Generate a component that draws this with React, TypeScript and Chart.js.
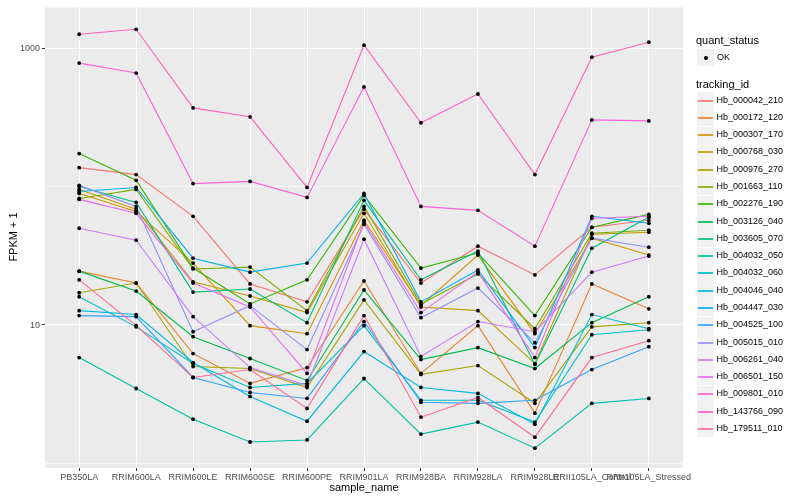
import React, { useEffect, useRef } from "react";
import { Chart, registerables } from "chart.js";

Chart.register(...registerables);

const sampleNames = [
  "PB350LA",
  "RRIM600LA",
  "RRIM600LE",
  "RRIM600SE",
  "RRIM600PE",
  "RRIM901LA",
  "RRIM928BA",
  "RRIM928LA",
  "RRIM928LE",
  "RRII105LA_Control",
  "RRII105LA_Stressed",
];

const trackingIds = [
  "Hb_000042_210",
  "Hb_000172_120",
  "Hb_000307_170",
  "Hb_000768_030",
  "Hb_000976_270",
  "Hb_001663_110",
  "Hb_002276_190",
  "Hb_003126_040",
  "Hb_003605_070",
  "Hb_004032_050",
  "Hb_004032_060",
  "Hb_004046_040",
  "Hb_004447_030",
  "Hb_004525_100",
  "Hb_005015_010",
  "Hb_006261_040",
  "Hb_006501_150",
  "Hb_009801_010",
  "Hb_143766_090",
  "Hb_179511_010",
];

// FPKM + 1 per sample, one array per tracking_id
const hb000042_210 = [137, 122, 61, 19.8, 14.7, 68.5, 20.1, 37.1, 23.0, 50.8, 57.1];
const hb000172_120 = [24.5, 20.1, 6.22, 3.79, 4.93, 20.8, 4.47, 9.9, 2.31, 19.8, 13.1];
const hb000307_170 = [89.2, 66.2, 28.0, 9.9, 8.66, 57.1, 13.8, 32.0, 8.66, 42.4, 32.0];
const hb000768_030 = [95.3, 68.5, 20.5, 16.2, 12.3, 64.1, 13.5, 12.7, 5.27, 45.3, 46.8];
const hb000976_270 = [17.1, 20.1, 5.02, 4.85, 3.54, 15.2, 4.4, 5.1, 2.72, 9.7, 10.4];
const hb001663_110 = [82.1, 95.3, 25.4, 26.2, 12.7, 71.9, 14.2, 23.4, 9.4, 46.0, 48.4];
const hb002276_190 = [173, 111, 25.8, 14.2, 21.2, 86.3, 25.8, 33.1, 11.7, 50.8, 63.0];
const hb003126_040 = [24.5, 17.6, 8.24, 5.73, 3.98, 17.9, 5.63, 6.87, 4.85, 10.4, 16.0];
const hb003605_070 = [100, 76.9, 17.3, 18.2, 10.4, 79.5, 21.2, 34.2, 5.19, 35.9, 60.0];
const hb004032_050 = [5.82, 3.48, 2.09, 1.43, 1.48, 4.11, 1.63, 1.99, 1.29, 2.72, 2.95];
const hb004032_060 = [16.0, 9.7, 5.27, 3.54, 3.79, 9.9, 2.86, 2.86, 1.99, 8.52, 9.25];
const hb004046_040 = [12.7, 11.9, 5.36, 3.05, 2.02, 6.43, 3.54, 3.21, 1.92, 11.9, 9.4];
const hb004447_030 = [92.2, 98.5, 30.4, 24.1, 28.0, 89.2, 14.7, 25.0, 6.87, 61.0, 54.3];
const hb004525_100 = [11.7, 11.5, 4.18, 3.26, 2.95, 10.6, 2.77, 2.72, 2.86, 4.77, 6.98];
const hb005015_010 = [102, 71.9, 8.95, 13.8, 6.65, 53.4, 11.3, 18.5, 7.46, 42.4, 36.5];
const hb006261_040 = [50.0, 41.0, 11.5, 4.93, 3.66, 41.7, 5.92, 10.6, 8.95, 24.1, 31.5];
const hb006501_150 = [80.8, 64.1, 20.1, 13.5, 4.47, 55.2, 12.3, 24.1, 5.82, 59.0, 61.0];
const hb009801_010 = [779, 660, 105, 109, 83.5, 524, 71.9, 67.3, 37.1, 303, 298];
const hb143766_090 = [1259, 1367, 370, 319, 98.5, 1049, 289, 466, 122, 860, 1103];
const hb179511_010 = [21.2, 9.9, 4.18, 4.77, 2.5, 11.7, 2.16, 3.0, 1.55, 5.82, 7.71];

const seriesValues = [
  hb000042_210,
  hb000172_120,
  hb000307_170,
  hb000768_030,
  hb000976_270,
  hb001663_110,
  hb002276_190,
  hb003126_040,
  hb003605_070,
  hb004032_050,
  hb004032_060,
  hb004046_040,
  hb004447_030,
  hb004525_100,
  hb005015_010,
  hb006261_040,
  hb006501_150,
  hb009801_010,
  hb143766_090,
  hb179511_010,
];

const palette = [
  "#F8766D", "#EA8331", "#D89000", "#C09B00", "#A3A500",
  "#7CAE00", "#39B600", "#00BB4E", "#00BF7D", "#00C1A3",
  "#00BFC4", "#00BAE0", "#00B0F6", "#35A2FF", "#9590FF",
  "#C77CFF", "#E76BF3", "#FA62DB", "#FF62BC", "#FF6C91",
];

const yTickValues = [1, 10, 100, 1000];
const yLabelled = [10, 1000];

const FONT = '"Liberation Sans", Arial, Helvetica, sans-serif';

const panelBg = {
  id: "panelBg",
  beforeDraw(chart: any) {
    const { ctx, chartArea } = chart;
    if (!chartArea) return;
    ctx.save();
    ctx.fillStyle = "#EBEBEB";
    ctx.fillRect(chartArea.left, chartArea.top, chartArea.right - chartArea.left, chartArea.bottom - chartArea.top);
    ctx.restore();
  },
};

const pointsOnTop = {
  id: "pointsOnTop",
  afterDatasetsDraw(chart: any) {
    const ctx = chart.ctx;
    ctx.save();
    ctx.fillStyle = "#000000";
    chart.data.datasets.forEach((_: any, i: number) => {
      const meta = chart.getDatasetMeta(i);
      meta.data.forEach((el: any) => {
        ctx.beginPath();
        ctx.arc(el.x, el.y, 1.9, 0, Math.PI * 2);
        ctx.fill();
      });
    });
    ctx.restore();
  },
};

function ChartCanvas() {
  const ref = useRef<HTMLCanvasElement | null>(null);
  useEffect(() => {
    if (!ref.current) return;
    const datasets = seriesValues
      .map((vals, i) => ({
        label: trackingIds[i],
        data: vals.map((v, j) => ({ x: j, y: v })),
        borderColor: palette[i],
        backgroundColor: palette[i],
        borderWidth: 1.1,
        pointRadius: 0,
        pointHoverRadius: 0,
        tension: 0,
        fill: false,
      }))
      .reverse();
    const chart = new Chart(ref.current, {
      type: "line",
      data: { datasets },
      plugins: [panelBg, pointsOnTop],
      options: {
        animation: false,
        responsive: false,
        events: [],
        layout: { padding: { top: 5, right: 117, left: 0, bottom: 0 } },
        plugins: { legend: { display: false }, tooltip: { enabled: false } },
        scales: {
          x: {
            type: "linear",
            min: -0.6,
            max: sampleNames.length - 1 + 0.6,
            afterFit(scale: any) {
              scale.height = 32;
            },
            afterBuildTicks(scale: any) {
              scale.ticks = sampleNames.map((_, i) => ({ value: i }));
            },
            border: { display: false },
            grid: {
              color: "#FFFFFF",
              lineWidth: 1,
              drawTicks: true,
              tickLength: 3,
              tickColor: "#333333",
              tickWidth: 1,
            },
            ticks: {
              autoSkip: false,
              maxRotation: 0,
              minRotation: 0,
              padding: 1,
              color: "#4D4D4D",
              font: { family: FONT, size: 9 },
              callback: (value: any) => sampleNames[value as number] ?? "",
            },
          },
          y: {
            type: "logarithmic",
            min: 0.928,
            max: 1967,
            afterFit(scale: any) {
              scale.width = 45;
            },
            afterBuildTicks(scale: any) {
              scale.ticks = yTickValues.map((v) => ({ value: v }));
            },
            border: { display: false },
            grid: {
              color: "#FFFFFF",
              lineWidth: (ctx: any) => (ctx.tick && yLabelled.includes(ctx.tick.value) ? 1.1 : 0.55),
              drawTicks: true,
              tickLength: 3,
              tickWidth: 1,
              tickColor: (ctx: any) =>
                ctx.tick && yLabelled.includes(ctx.tick.value) ? "#333333" : "rgba(0,0,0,0)",
            },
            ticks: {
              padding: 2,
              color: "#4D4D4D",
              font: { family: FONT, size: 9 },
              callback: (value: any) => (yLabelled.includes(value as number) ? String(value) : ""),
            },
          },
        },
      } as any,
    });
    return () => chart.destroy();
  }, []);
  return <canvas ref={ref} width={800} height={500} style={{ position: "absolute", left: 0, top: 0, width: 800, height: 500 }} />;
}

function Legend() {
  const keySize = 17.28;
  const firstTop = 92;
  return (
    <div style={{ position: "absolute", left: 0, top: 0, width: 800, height: 500, fontFamily: FONT, pointerEvents: "none" }}>
      <div style={{ position: "absolute", left: 696, top: 34, fontSize: 11, lineHeight: "13px", color: "#000" }}>quant_status</div>
      <div style={{ position: "absolute", left: 697, top: 49, width: 17, height: 17, background: "#F2F2F2" }}>
        <div style={{ position: "absolute", left: 6.5, top: 6.5, width: 4, height: 4, borderRadius: 2, background: "#000" }} />
      </div>
      <div style={{ position: "absolute", left: 717, top: 52, fontSize: 9, lineHeight: "11px", color: "#000" }}>OK</div>
      <div style={{ position: "absolute", left: 696, top: 77.5, fontSize: 11, lineHeight: "13px", color: "#000" }}>tracking_id</div>
      {trackingIds.map((id, i) => {
        const boxTop = Math.round(firstTop + i * keySize);
        const centre = Math.round(firstTop + i * keySize + keySize / 2);
        return (
          <React.Fragment key={id}>
            <div style={{ position: "absolute", left: 697, top: boxTop, width: 17, height: 17, background: "#F2F2F2" }} />
            <div style={{ position: "absolute", left: 698, top: centre - 1, width: 15, height: 2, background: palette[i], opacity: 0.85 }} />
            <div style={{ position: "absolute", left: 716.5, top: centre - 6, fontSize: 9, lineHeight: "11px", color: "#000", whiteSpace: "nowrap" }}>{id}</div>
          </React.Fragment>
        );
      })}
      <div style={{ position: "absolute", left: 364, top: 481, transform: "translateX(-50%)", fontSize: 11, lineHeight: "13px", color: "#000", whiteSpace: "nowrap" }}>sample_name</div>
      <div style={{ position: "absolute", left: 12.5, top: 237, transform: "translate(-50%, -50%) rotate(-90deg)", fontSize: 11, lineHeight: "13px", color: "#000", whiteSpace: "nowrap" }}>FPKM + 1</div>
    </div>
  );
}

export default function App() {
  return (
    <div style={{ position: "fixed", left: 0, top: 0, width: 800, height: 500, background: "#FFFFFF", overflow: "hidden" }}>
      <ChartCanvas />
      <Legend />
    </div>
  );
}
